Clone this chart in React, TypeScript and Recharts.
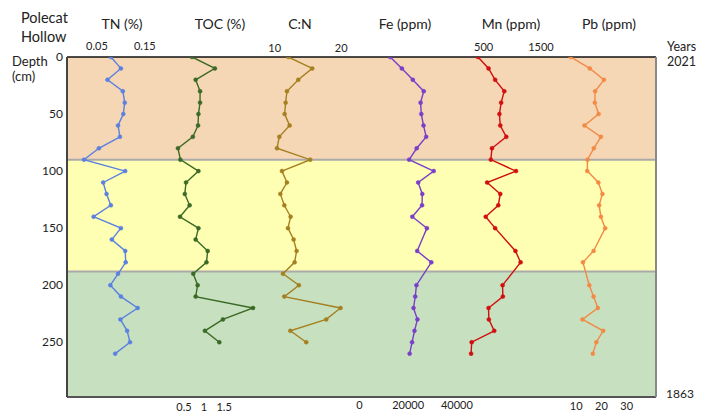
import React from 'react';
import { ComposedChart, Line, XAxis, YAxis, ReferenceArea, ReferenceLine } from 'recharts';

// sampling depths (cm)
const depths = [0, 10, 20, 30, 40, 50, 60, 70, 80, 90, 100, 110, 120, 130, 140, 150, 160, 170, 180, 190, 200, 210, 220, 230, 240, 250, 260];

const tn = [0.079, 0.1, 0.072, 0.104, 0.108, 0.105, 0.094, 0.098, 0.054, 0.023, 0.109, 0.063, 0.07, 0.079, 0.043, 0.1, 0.081, 0.109, 0.11, 0.094, 0.078, 0.1, 0.135, 0.099, 0.113, 0.119, 0.088];
const toc = [0.7, 1.27, 0.79, 0.9, 0.9, 0.86, 0.85, 0.72, 0.35, 0.41, 0.86, 0.55, 0.52, 0.64, 0.4, 0.86, 0.79, 1.09, 1.06, 0.73, 0.84, 0.79, 2.22, 1.47, 1.02, 1.38, null];
const cn = [12.05, 15.65, 13.55, 11.85, 11.65, 11.5, 12.25, 10.7, 10.35, 15.35, 11.1, 11.85, 10.85, 11.45, 12.4, 12.0, 12.85, 13.3, 13.0, 11.25, 13.65, 11.45, 19.9, 17.75, 12.35, 14.75, null];
const fe = [12600, 17400, 21900, 26400, 25100, 25400, 26300, 27400, 23500, 20400, 30500, 24100, 25800, 25700, 21700, 27700, null, 23700, 29500, null, 23400, 22900, 22200, 23800, 22600, 21600, 20600];
const mn = [400, 585, 700, 860, 805, 775, 790, 895, 645, 625, 1065, 560, 790, 755, 535, 700, null, 1055, 1145, null, 830, 835, 585, 590, 685, 290, 280];
const pb = [7.8, 15.4, 21, 17.5, 17.4, 18.9, 13.3, 19.8, 17, 14.5, 14.4, 18.8, 20.4, 19.1, 19.8, 21.5, null, 16.9, 12.7, null, 15.2, 16.9, 18.6, 12.5, 20.7, 18, 16.6];

const depthTicks = [0, 50, 100, 150, 200, 250];
const tnTicks = [0.05, 0.15];
const tocTicks = [0.5, 1, 1.5];
const cnTicks = [10, 20];
const feTicks = [0, 20000, 40000];
const mnTicks = [500, 1500];
const pbTicks = [10, 20, 30];

// sediment zones (depth, cm)
const zones = [
  { from: 0, to: 90, color: '#f5d6b5' },
  { from: 90, to: 188, color: '#ffffb4' },
  { from: 188, to: 298, color: '#c7e1c0' },
];

const data = depths.map((depth, i) => ({
  depth,
  tn: tn[i],
  toc: toc[i],
  cn: cn[i],
  fe: fe[i],
  mn: mn[i],
  pb: pb[i],
}));

const FONT = 'Lato, "Open Sans", sans-serif';
const tickStyle = { fontSize: 11, fill: '#222', fontFamily: FONT };

const series = [
  { key: 'tn', color: '#5b80e0', domain: [-0.0125, 1.2167], ticks: tnTicks, side: 'top' },
  { key: 'toc', color: '#3b6a25', domain: [-2.4154, 12.2612], ticks: tocTicks, side: 'bottom' },
  { key: 'cn', color: '#a58020', domain: [-21.2, 67.3], ticks: cnTicks, side: 'top' },
  { key: 'fe', color: '#7a3ec8', domain: [-120205, 121846], ticks: feTicks, side: 'bottom' },
  { key: 'mn', color: '#d01010', domain: [-6781, 3511], ticks: mnTicks, side: 'top' },
  { key: 'pb', color: '#f28a45', domain: [-191.6, 41.62], ticks: pbTicks, side: 'bottom' },
];

const titles = [
  { text: 'TN (%)', x: 122 },
  { text: 'TOC (%)', x: 220 },
  { text: 'C:N', x: 300 },
  { text: 'Fe (ppm)', x: 405 },
  { text: 'Mn (ppm)', x: 511 },
  { text: 'Pb (ppm)', x: 609 },
];

const Txt = ({ x, y, children, center = false, size = 14 }: any) => (
  <div
    style={{
      position: 'absolute',
      left: x,
      top: y,
      transform: center ? 'translate(-50%, -50%)' : 'translateY(-50%)',
      fontSize: size,
      fontFamily: FONT,
      color: '#222',
      whiteSpace: 'nowrap',
      lineHeight: 1,
    }}
  >
    {children}
  </div>
);

export default function App() {
  return (
    <div style={{ position: 'absolute', left: 0, top: 0, width: 707, height: 416, background: '#fff' }}>
      <ComposedChart
        width={707}
        height={416}
        data={data}
        layout="vertical"
        margin={{ top: 54, right: 50, bottom: 16, left: 30 }}
      >
        {series.map((s) => (
          <XAxis
            key={s.key}
            xAxisId={s.key}
            type="number"
            orientation={s.side as any}
            domain={s.domain as any}
            allowDataOverflow
            ticks={s.ticks}
            interval={0}
            height={1}
            tickSize={0}
            tickMargin={s.side === 'top' ? 5 : 4}
            tickLine={false}
            axisLine={false}
            tick={tickStyle}
          />
        ))}
        <YAxis
          yAxisId={0}
          type="number"
          dataKey="depth"
          domain={[0, 298]}
          allowDataOverflow
          ticks={depthTicks}
          interval={0}
          width={37}
          tickSize={0}
          tickMargin={4}
          tickLine={false}
          axisLine={{ stroke: '#444', strokeWidth: 2 }}
          tick={{ ...tickStyle, fontSize: 12 }}
        />
        <YAxis
          yAxisId="right"
          orientation="right"
          type="number"
          domain={[0, 298]}
          width={1}
          tick={false}
          tickLine={false}
          axisLine={{ stroke: '#888', strokeWidth: 2 }}
        />
        {zones.map((z) => (
          <ReferenceArea
            key={z.from}
            xAxisId="tn"
            yAxisId={0}
            y1={z.from}
            y2={z.to}
            fill={z.color}
            fillOpacity={1}
            stroke="none"
            ifOverflow="hidden"
          />
        ))}
        {zones.slice(1).map((z) => (
          <ReferenceLine key={'b' + z.from} xAxisId="tn" yAxisId={0} y={z.from} stroke="#aaa" strokeWidth={2} />
        ))}
        {/* frame top and bottom */}
        <ReferenceLine xAxisId="tn" yAxisId={0} y={0} stroke="#111" strokeWidth={1.5} />
        <ReferenceLine xAxisId="tn" yAxisId={0} y={298} stroke="#555" strokeWidth={2} />
        {series.map((s) => (
          <Line
            key={s.key}
            xAxisId={s.key}
            yAxisId={0}
            dataKey={s.key}
            type="linear"
            stroke={s.color}
            strokeWidth={1.4}
            dot={{ r: 2, fill: s.color, stroke: s.color, strokeWidth: 0.5 }}
            activeDot={false}
            connectNulls
            isAnimationActive={false}
          />
        ))}
      </ComposedChart>

      <Txt x={21} y={18} size={14.5}>Polecat</Txt>
      <Txt x={21} y={37} size={14.5}>Hollow</Txt>
      <Txt x={12} y={61} size={13}>Depth</Txt>
      <Txt x={12} y={76} size={13}>(cm)</Txt>
      {titles.map((t) => (
        <Txt key={t.text} x={t.x} y={24} center size={14}>
          {t.text}
        </Txt>
      ))}
      <Txt x={667} y={47} size={12.5}>Years</Txt>
      <Txt x={667} y={62} size={12.5}>2021</Txt>
      <Txt x={666} y={394} size={12}>1863</Txt>
    </div>
  );
}
